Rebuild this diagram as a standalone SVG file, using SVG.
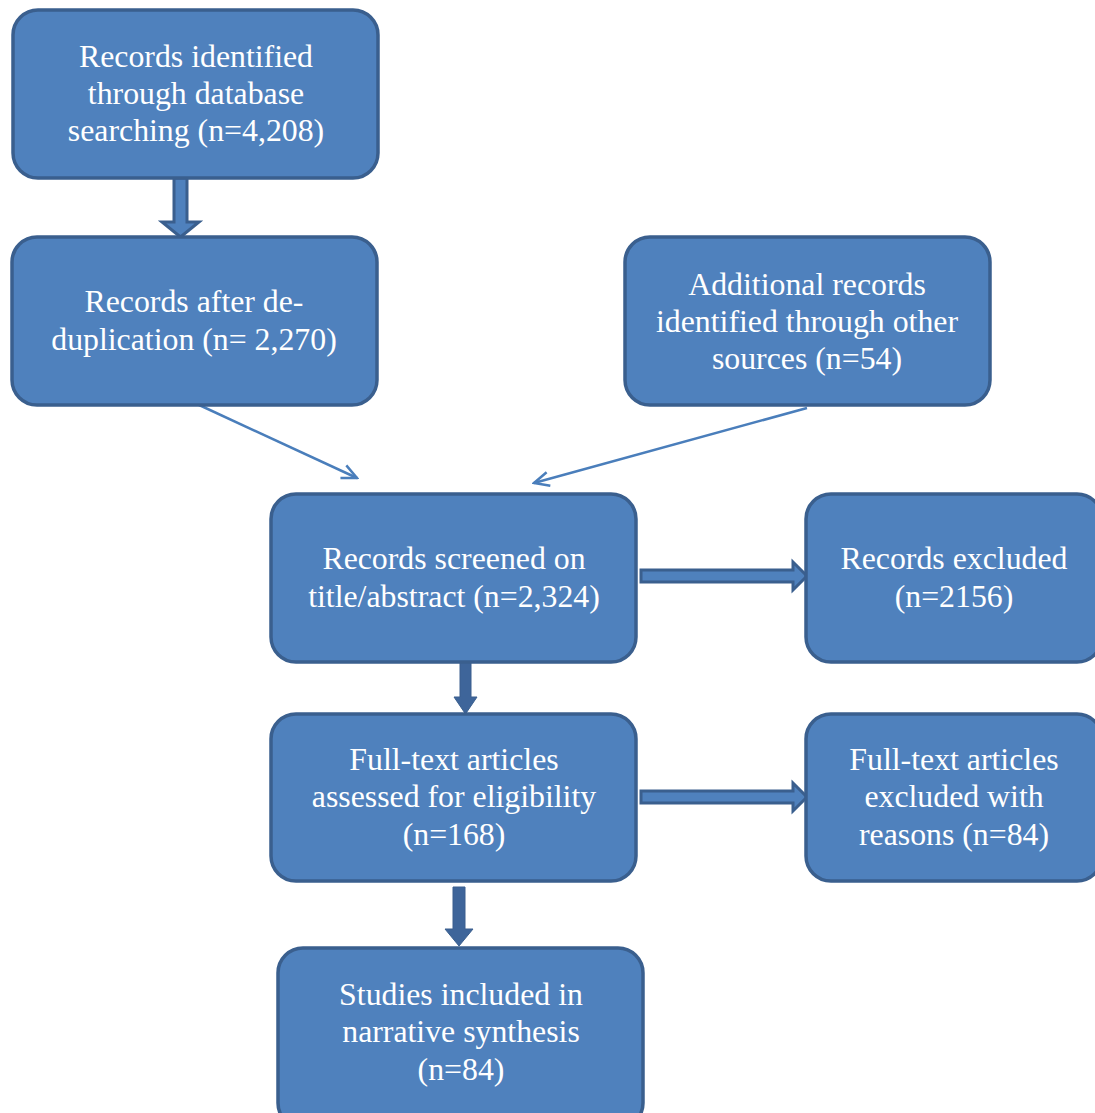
<svg xmlns="http://www.w3.org/2000/svg" width="1095" height="1113" viewBox="0 0 1095 1113">
<style>
.box{fill:#4F81BD;stroke:#3A5F8E;stroke-width:3.5}
.t{font-family:"Liberation Serif","Times New Roman",serif;font-size:31.8px;fill:#FFFFFF;text-anchor:middle}
.blk{fill:#4F81BD;stroke:#3A5F8E;stroke-width:3;stroke-linejoin:miter}
.blkd{fill:#3E659A;stroke:#3A5F8E;stroke-width:1}
.thin{fill:none;stroke:#4A7EBB;stroke-width:2.5}
</style>
<defs>
<marker id="open" viewBox="0 0 20 20" refX="18" refY="10" markerWidth="20" markerHeight="20" markerUnits="userSpaceOnUse" orient="auto">
<path d="M3,3 L18,10 L3,17" fill="none" stroke="#4A7EBB" stroke-width="2.5"/>
</marker>
</defs>
<rect width="1095" height="1113" fill="#FFFFFF"/>
<g id="connectors">
<polygon class="blk" points="174,178 187,178 187,222 199,222 180.5,237 162,222 174,222"/>
<line class="thin" x1="197" y1="404" x2="357" y2="478" marker-end="url(#open)"/>
<line class="thin" x1="807" y1="408" x2="534" y2="483" marker-end="url(#open)"/>
<polygon class="blk" points="641,570 793,570 793,562 807,576 793,590 793,582 641,582"/>
<polygon class="blkd" points="460,662 471,662 471,697 477,697 465.5,714 454,697 460,697"/>
<polygon class="blk" points="641,791 793,791 793,783 807,797 793,811 793,803 641,803"/>
<polygon class="blkd" points="453,887 465,887 465,929 473,929 459,946 445,929 453,929"/>
</g>
<g id="n1"><rect class="box" x="13" y="10" width="365" height="168" rx="25"/>
<text class="t" x="196" y="67">Records identified</text><text class="t" x="196" y="104">through database</text><text class="t" x="196" y="141">searching (n=4,208)</text></g>
<g id="n2"><rect class="box" x="12" y="237" width="365" height="168" rx="25"/>
<text class="t" x="194" y="312">Records after de-</text><text class="t" x="194" y="350">duplication (n= 2,270)</text></g>
<g id="n3"><rect class="box" x="625" y="237" width="365" height="168" rx="25"/>
<text class="t" x="807" y="295">Additional records</text><text class="t" x="807" y="332">identified through other</text><text class="t" x="807" y="369">sources (n=54)</text></g>
<g id="n4"><rect class="box" x="271" y="494" width="365" height="168" rx="25"/>
<text class="t" x="454" y="569">Records screened on</text><text class="t" x="454" y="607">title/abstract (n=2,324)</text></g>
<g id="n5"><rect class="box" x="806" y="494" width="296" height="168" rx="25"/>
<text class="t" x="954" y="569">Records excluded</text><text class="t" x="954" y="607">(n=2156)</text></g>
<g id="n6"><rect class="box" x="271" y="714" width="365" height="167" rx="25"/>
<text class="t" x="454" y="770">Full-text articles</text><text class="t" x="454" y="807">assessed for eligibility</text><text class="t" x="454" y="845">(n=168)</text></g>
<g id="n7"><rect class="box" x="806" y="714" width="296" height="167" rx="25"/>
<text class="t" x="954" y="770">Full-text articles</text><text class="t" x="954" y="807">excluded with</text><text class="t" x="954" y="845">reasons (n=84)</text></g>
<g id="n8"><rect class="box" x="278" y="948" width="365" height="180" rx="25"/>
<text class="t" x="461" y="1005">Studies included in</text><text class="t" x="461" y="1042">narrative synthesis</text><text class="t" x="461" y="1080">(n=84)</text></g>
</svg>
